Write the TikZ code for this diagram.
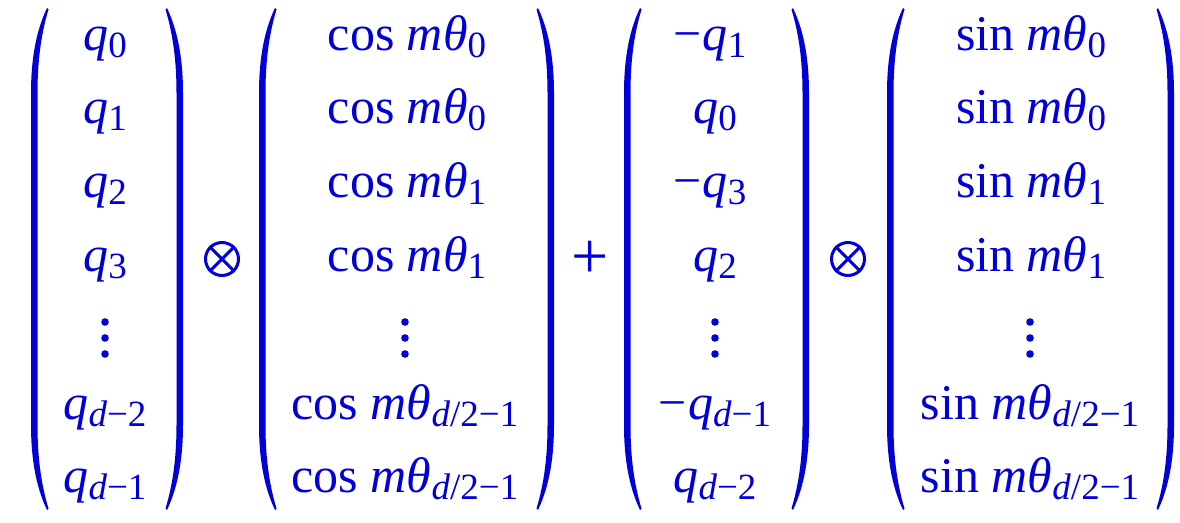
\documentclass[tikz,border=0pt]{standalone}
\usepackage{fontspec}
\setmainfont{Liberation Serif}
\definecolor{eqblue}{RGB}{0,0,215}
\newcommand\sbs[1]{\raisebox{-0.14em}{\fontsize{37}{37}\selectfont #1}}
\newcommand\mypar[5]{%
\fill[eqblue] (#1,#4) .. controls ({#2+4*#3},{#4+25}) and (#2,{#4+55}) .. (#2,{#4+85})
 -- (#2,{#5-85}) .. controls (#2,{#5-55}) and ({#2+4*#3},{#5-25}) .. (#1,#5)
 -- ({#1+1.5*#3},{#5-1.5}) .. controls ({#2+9.5*#3},{#5-28}) and ({#2+6.5*#3},{#5-55}) .. ({#2+6.5*#3},{#5-85})
 -- ({#2+6.5*#3},{#4+85}) .. controls ({#2+6.5*#3},{#4+55}) and ({#2+9.5*#3},{#4+28}) .. ({#1+1.5*#3},{#4+1.5}) -- cycle;}
\begin{document}
\begin{tikzpicture}[x=1pt,y=-1pt,
  every node/.style={text=eqblue, inner sep=0pt},
  ent/.style={anchor=base, font=\fontsize{50}{58}\selectfont},
  opsym/.style={circle, draw=eqblue, line width=3pt, minimum size=33pt},
  dotv/.style={fill=eqblue}]
\useasboundingbox (0,0) rectangle (1180,522);
\fill[white] (0,0) rectangle (1180,522);
% parentheses
\mypar{47}{31}{1}{8}{510}
\mypar{167}{183}{-1}{8}{510}
\mypar{275}{259}{1}{8}{510}
\mypar{538}{554}{-1}{8}{510}
\mypar{640}{624}{1}{8}{510}
\mypar{793}{809}{-1}{8}{510}
\mypar{903}{887}{1}{8}{510}
\mypar{1158}{1174}{-1}{8}{510}
% column 1
\node[ent] (a0) at (105,50) {\textit{q}\sbs{0}};
\node[ent] (a1) at (105,123.8) {\textit{q}\sbs{1}};
\node[ent] (a2) at (105,197.6) {\textit{q}\sbs{2}};
\node[ent] (a3) at (105,271.4) {\textit{q}\sbs{3}};
\node[ent] (a5) at (105,419) {\textit{q}\sbs{\textit{d}−2}};
\node[ent] (a6) at (105,492.8) {\textit{q}\sbs{\textit{d}−1}};
% column 2
\node[ent] (b0) at (407,50) {cos \textit{mθ}\sbs{0}};
\node[ent] (b1) at (407,123.8) {cos \textit{mθ}\sbs{0}};
\node[ent] (b2) at (407,197.6) {cos \textit{mθ}\sbs{1}};
\node[ent] (b3) at (407,271.4) {cos \textit{mθ}\sbs{1}};
\node[ent] (b5) at (405,419) {cos \textit{mθ}\sbs{\textit{d}/2−1}};
\node[ent] (b6) at (405,492.8) {cos \textit{mθ}\sbs{\textit{d}/2−1}};
% column 3
\node[ent] (c0) at (710,50) {−\kern1pt\textit{q}\sbs{1}};
\node[ent] (c1) at (715,123.8) {\textit{q}\sbs{0}};
\node[ent] (c2) at (710,197.6) {−\kern1pt\textit{q}\sbs{3}};
\node[ent] (c3) at (715,271.4) {\textit{q}\sbs{2}};
\node[ent] (c5) at (715,419) {−\kern1pt\textit{q}\sbs{\textit{d}−1}};
\node[ent] (c6) at (715,492.8) {\textit{q}\sbs{\textit{d}−2}};
% column 4
\node[ent] (d0) at (1031,50) {sin \textit{mθ}\sbs{0}};
\node[ent] (d1) at (1031,123.8) {sin \textit{mθ}\sbs{0}};
\node[ent] (d2) at (1031,197.6) {sin \textit{mθ}\sbs{1}};
\node[ent] (d3) at (1031,271.4) {sin \textit{mθ}\sbs{1}};
\node[ent] (d5) at (1030,419) {sin \textit{mθ}\sbs{\textit{d}/2−1}};
\node[ent] (d6) at (1030,492.8) {sin \textit{mθ}\sbs{\textit{d}/2−1}};
% vertical dots
\foreach \cx in {105, 405, 715, 1030}{
  \foreach \dy in {322, 338, 354}{
    \fill[dotv] (\cx,\dy) circle (3.8pt);
  }
}
% operators
\node[opsym] (ot1) at (222,259) {};
\draw[eqblue, line width=3pt] (ot1.45) -- (ot1.225) (ot1.135) -- (ot1.315);
\node[ent, anchor=center, font=\fontsize{66}{66}\selectfont] (plus) at (590,260) {+};
\node[opsym] (ot2) at (848,259) {};
\draw[eqblue, line width=3pt] (ot2.45) -- (ot2.225) (ot2.135) -- (ot2.315);
\end{tikzpicture}
\end{document}
